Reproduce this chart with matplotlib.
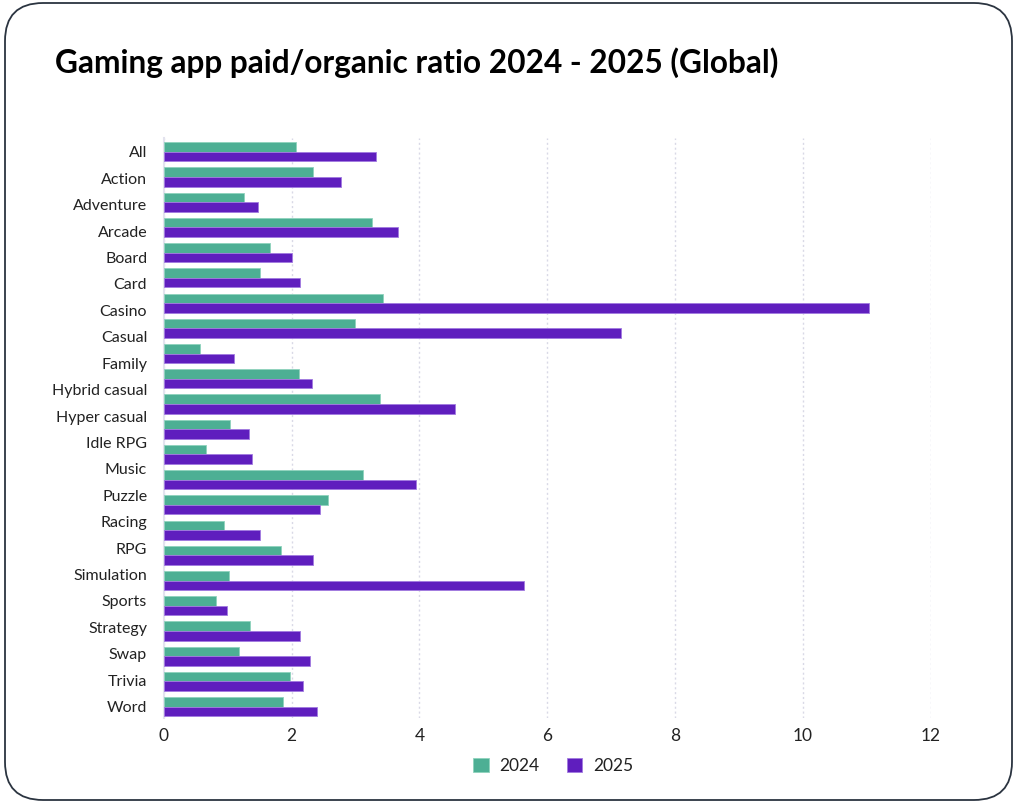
import numpy as np
import matplotlib
matplotlib.use("Agg")
import matplotlib.pyplot as plt
from matplotlib.patches import FancyBboxPatch
from matplotlib.transforms import IdentityTransform

plt.rcParams["font.family"] = ["Lato", "DejaVu Sans"]

# ----------------------------- data ------------------------------------------
# the source chart has 23 bar pairs but only 22 category labels (spread evenly)
labels = ["All", "Action", "Adventure", "Arcade", "Board", "Card", "Casino", "Casual",
          "Family", "Hybrid casual", "Hyper casual", "Idle RPG", "Music", "Puzzle",
          "Racing", "RPG", "Simulation", "Sports", "Strategy", "Swap", "Trivia", "Word"]

ratio_2024 = [2.06, 2.33, 1.25, 3.26, 1.66, 1.50, 3.43, 2.99, 0.56, 2.11, 3.38, 1.04,
              0.66, 3.12, 2.57, 0.94, 1.83, 1.02, 0.81, 1.35, 1.18, 1.97, 1.86]
ratio_2025 = [3.32, 2.77, 1.48, 3.66, 2.01, 2.13, 11.04, 7.15, 1.10, 2.32, 4.56, 1.34,
              1.38, 3.95, 2.44, 1.51, 2.33, 5.63, 0.99, 2.13, 2.28, 2.18, 2.40]

series_names = ["2024", "2025"]
xticks = [0, 2, 4, 6, 8, 10, 12]

GREEN = "#4daf94"
PURPLE = "#5f1ebe"

# ----------------------------- plot ------------------------------------------
fig = plt.figure(figsize=(10.24, 8.09), dpi=100)
ax = fig.add_axes([0.160, 0.1125, 0.749, 0.717])

n = len(ratio_2024)
pos = np.arange(n)
h = 0.38
ax.barh(pos - h / 2, ratio_2024, height=h, color=GREEN, edgecolor="#8fd3bd",
        linewidth=0.6, label=series_names[0], zorder=3)
ax.barh(pos + h / 2, ratio_2025, height=h, color=PURPLE, edgecolor="#a27ae0",
        linewidth=0.6, label=series_names[1], zorder=3)

ax.set_xlim(0, 12)
ax.set_ylim(n - 1 + 0.45, -0.55)
ax.set_xticks(xticks)
ax.set_xticklabels([str(t) for t in xticks], fontsize=12.5, color="#222222")
ax.set_yticks(np.linspace(0, n - 1, len(labels)))
ax.set_yticklabels(labels, fontsize=11.5, color="#222222")
ax.tick_params(axis="both", length=0)
ax.tick_params(axis="y", pad=12)
ax.tick_params(axis="x", pad=7)

ax.grid(axis="x", color="#d9d9e6", linestyle=(0, (1.5, 2)), linewidth=1.0, zorder=0)
for s in ["top", "right", "bottom"]:
    ax.spines[s].set_visible(False)
ax.spines["left"].set_color("#e3e3ee")
ax.spines["left"].set_linewidth(1.5)

leg = fig.legend(loc="center", bbox_to_anchor=(0.540, 0.053), ncol=2, frameon=False,
                 prop={"size": 12.5}, handlelength=0.9,
                 handleheight=0.9, columnspacing=1.6, handletextpad=0.6)
for t in leg.get_texts():
    t.set_color("#222222")

fig.text(0.054, 0.923, "Gaming app paid/organic ratio 2024 - 2025 (Global)",
         fontsize=22.8, fontweight="bold", color="#000000", va="center", ha="left")

frame = FancyBboxPatch((5, 9), 1007, 797, boxstyle="round,pad=0,rounding_size=38",
                       transform=IdentityTransform(), facecolor="none",
                       edgecolor="#2b3440", linewidth=1.3)
fig.add_artist(frame)

fig.savefig("out.png", dpi=100)
